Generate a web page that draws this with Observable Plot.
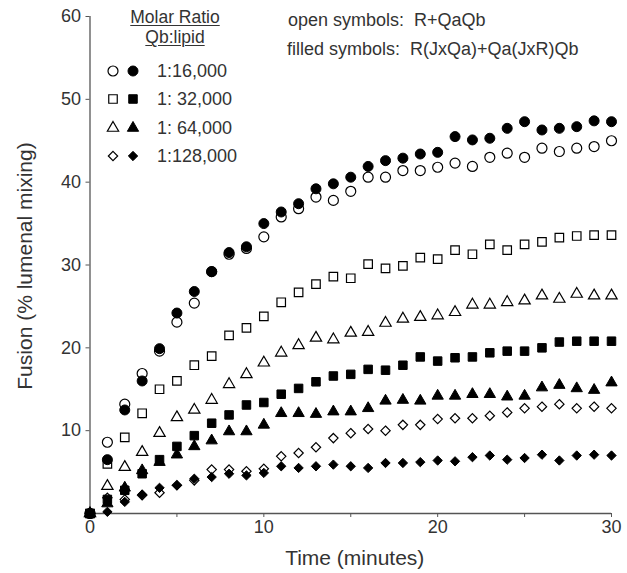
<!DOCTYPE html>
<html>
<head>
<meta charset="utf-8">
<script src="https://cdn.jsdelivr.net/npm/d3@7"></script>
<script src="https://cdn.jsdelivr.net/npm/@observablehq/plot@0.6"></script>
<style>
  body { margin: 0; background: #fff; }
  #wrap { position: relative; width: 627px; height: 573px; font-family: "Liberation Sans", Arial, Helvetica, sans-serif; color: #333; }
  .t { position: absolute; white-space: pre; font-size: 18px; line-height: 16px; }
  .u { text-decoration: underline; text-underline-offset: 2px; text-decoration-thickness: 1px; font-size: 17.5px; }
</style>
</head>
<body>
<div id="wrap"></div>
<script>
// ---- data ----
const time = [0,1,2,3,4,5,6,7,8,9,10,11,12,13,14,15,16,17,18,19,20,21,22,23,24,25,26,27,28,29,30];

const ratioLabels = ["1:16,000", "1: 32,000", "1: 64,000", "1:128,000"];

// open symbols: R+QaQb
const open16k  = [0,8.6,13.2,16.9,19.6,23.1,25.4,29.2,31.3,32.0,33.4,35.8,36.8,38.2,37.8,38.9,40.6,40.6,41.4,41.4,41.8,42.3,41.9,43.0,43.5,43.0,44.1,43.7,44.1,44.3,45.0];
const open32k  = [0,6.0,9.2,12.1,15.0,16.0,17.9,19.0,21.5,22.4,23.8,25.5,26.7,27.7,28.6,28.4,30.1,29.6,29.9,30.9,30.7,31.8,31.3,32.5,31.8,32.5,32.8,33.3,33.5,33.6,33.6];
const open64k  = [0,3.3,5.6,7.4,9.7,11.6,12.5,13.7,15.6,16.8,18.2,19.4,20.3,21.2,21.0,21.8,21.9,23.0,23.5,23.7,23.9,24.3,25.2,25.2,25.5,25.7,26.3,25.9,26.5,26.3,26.3];
const open128k = [0,1.9,1.7,2.2,2.5,3.4,4.0,5.3,5.3,5.1,5.4,6.9,7.3,8.0,9.1,9.7,10.2,10.0,10.7,10.7,11.4,11.5,11.5,11.8,12.2,12.7,12.9,13.2,12.7,12.9,12.7];

// filled symbols: R(JxQa)+Qa(JxR)Qb
const filled16k  = [0,6.5,12.5,16.0,19.9,24.2,26.8,29.2,31.5,32.2,35.0,36.4,37.4,39.2,39.8,40.6,41.9,42.6,42.9,43.4,43.6,45.5,45.1,45.3,46.5,47.3,46.3,46.5,46.7,47.4,47.3];
const filled32k  = [0,1.7,2.8,4.8,6.5,8.1,9.4,10.9,11.9,13.1,13.4,14.4,15.1,15.9,16.6,16.8,17.4,17.3,17.9,18.9,18.4,18.8,18.9,19.4,19.6,19.6,20.0,20.7,20.8,20.8,20.8];
const filled64k  = [0,1.2,3.1,5.2,6.2,7.1,8.1,8.8,9.9,9.9,10.7,12.1,12.1,12.0,12.3,12.3,12.7,13.6,13.7,13.6,14.2,14.2,14.4,14.4,14.1,14.2,15.2,15.5,15.1,14.9,15.8];
const filled128k = [0,0.2,1.4,2.3,3.1,3.4,4.2,4.4,4.8,4.6,4.9,5.7,5.5,5.7,5.9,5.7,5.5,6.1,6.1,6.2,6.4,6.3,6.8,7.0,6.5,6.7,7.1,6.4,7.0,7.1,7.0];

const xTicks = [0,5,10,15,20,25,30];
const yTicks = [10,20,30,40,50,60];

const openSeries = [open16k, open32k, open64k, open128k];
const filledSeries = [filled16k, filled32k, filled64k, filled128k];
const symbols = ["circle", "square", "triangle", "diamond2"];
const symbolR = [5.0, 4.8, 4.2, 4.2];

// ---- chart ----
const toRows = (vals) => time.map((t, i) => ({t, v: vals[i]}));

const marks = [
  Plot.ruleY([0], {stroke: "#555", strokeWidth: 1.3}),
  Plot.ruleX([0], {stroke: "#555", strokeWidth: 1.3}),
  Plot.axisX({ticks: xTicks, tickFormat: d => d % 10 === 0 ? String(d) : "", tickSize: 4, tickPadding: 3, fontSize: 18, label: null, stroke: "#555"}),
  Plot.axisY({ticks: yTicks, tickSize: 4, tickPadding: 5, fontSize: 18, label: null, stroke: "#555"}),
  Plot.text(["Time (minutes)"], {frameAnchor: "bottom", dy: 45, dx: 4, fontSize: 21, lineAnchor: "middle", textAnchor: "middle"}),
  Plot.text(["Fusion (% lumenal mixing)"], {frameAnchor: "left", dx: -65, dy: 1, rotate: -90, fontSize: 21, lineAnchor: "middle", textAnchor: "middle"})
];
openSeries.forEach((vals, k) => {
  marks.push(Plot.dot(toRows(vals), {x: "t", y: "v", symbol: symbols[k], r: symbolR[k], fill: "white", stroke: "black", strokeWidth: 1.2}));
});
filledSeries.forEach((vals, k) => {
  marks.push(Plot.dot(toRows(vals), {x: "t", y: "v", symbol: symbols[k], r: symbolR[k], fill: "black", stroke: "black", strokeWidth: 1}));
});

const chart = Plot.plot({
  width: 627,
  height: 573,
  marginLeft: 89.5,
  marginRight: 16,
  marginTop: 16,
  marginBottom: 60,
  x: {domain: [0, 30]},
  y: {domain: [0, 60]},
  style: {fontFamily: '"Liberation Sans", Arial, Helvetica, sans-serif', fontSize: "18px", color: "#333", background: "white", overflow: "visible"},
  marks
});

const wrap = document.getElementById("wrap");
wrap.appendChild(chart);

// ---- annotations & legend (HTML overlay) ----
function addText(txt, left, top, cls = "") {
  const d = document.createElement("div");
  d.className = "t " + cls;
  d.style.left = left + "px";
  d.style.top = top + "px";
  d.textContent = txt;
  wrap.appendChild(d);
  return d;
}
const h1 = addText("Molar Ratio", 0, 8.5, "u"); h1.style.width = "350px"; h1.style.textAlign = "center";
const h2 = addText("Qb:lipid", 0, 29, "u"); h2.style.width = "350px"; h2.style.textAlign = "center";
addText("open symbols:  R+QaQb", 288, 12);
addText("filled symbols:  R(JxQa)+Qa(JxR)Qb", 287, 41);

const rowY = [70.7, 99.3, 127.7, 156];
ratioLabels.forEach((lab, k) => {
  const svg = d3.create("svg").attr("width", 50).attr("height", 20)
    .style("position", "absolute").style("left", "100px").style("top", (rowY[k] - 10) + "px");
  const sym = {circle: d3.symbolCircle, square: d3.symbolSquare, triangle: d3.symbolTriangle, diamond2: d3.symbolDiamond2}[symbols[k]];
  const p = d3.symbol(sym, Math.PI * symbolR[k] * symbolR[k])();
  svg.append("path").attr("d", p).attr("transform", "translate(13,10)").attr("fill", "white").attr("stroke", "black").attr("stroke-width", 1.2);
  svg.append("path").attr("d", p).attr("transform", "translate(33,10)").attr("fill", "black").attr("stroke", "black").attr("stroke-width", 1);
  wrap.appendChild(svg.node());
  addText(lab, 157, rowY[k] - 8);
});
</script>
</body>
</html>
